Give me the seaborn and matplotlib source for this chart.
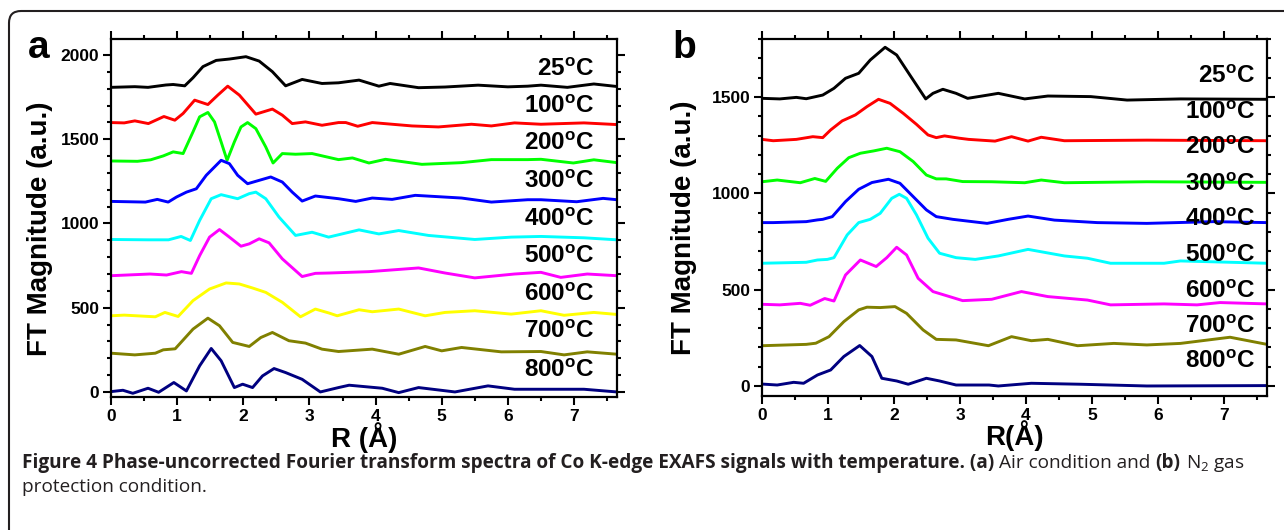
import numpy as np
import pandas as pd
import seaborn as sns
import matplotlib.pyplot as plt
from matplotlib.patches import FancyBboxPatch
from matplotlib.ticker import MultipleLocator

# temperature labels (both panels)
temps = ['25', '100', '200', '300', '400', '500', '600', '700', '800']

# panel a - air condition, (R, FT magnitude)
a_25 = [(0, 1808), (0.36, 1812), (0.56, 1808), (0.83, 1822), (0.94, 1825), (1.115, 1817), (1.24, 1865),
        (1.39, 1931), (1.59, 1968), (1.79, 1976), (2.04, 1990), (2.24, 1964), (2.44, 1901), (2.64, 1817),
        (2.89, 1855), (3.19, 1831), (3.44, 1835), (3.75, 1851), (4.05, 1815), (4.22, 1831), (4.65, 1806),
        (5.05, 1810), (5.55, 1821), (6.0, 1811), (6.3, 1815), (6.5, 1821), (6.9, 1808), (7.3, 1828), (7.65, 1813)]
a_100 = [(0, 1599), (0.2, 1597), (0.36, 1609), (0.565, 1593), (0.8, 1635), (0.965, 1613), (1.09, 1653),
         (1.265, 1732), (1.465, 1706), (1.615, 1762), (1.765, 1815), (1.94, 1762), (2.19, 1649), (2.44, 1679),
         (2.59, 1643), (2.74, 1593), (2.94, 1603), (3.19, 1583), (3.44, 1599), (3.55, 1599), (3.73, 1577),
         (3.95, 1599), (4.55, 1579), (4.95, 1573), (5.45, 1589), (5.75, 1579), (6.1, 1597), (6.5, 1589),
         (7.15, 1597), (7.65, 1587)]
a_200 = [(0, 1371), (0.4, 1369), (0.6, 1378), (0.79, 1401), (0.94, 1425), (1.09, 1415), (1.24, 1544),
         (1.34, 1633), (1.465, 1659), (1.565, 1603), (1.665, 1484), (1.755, 1375), (1.865, 1484), (1.965, 1573),
         (2.065, 1599), (2.19, 1563), (2.34, 1454), (2.45, 1359), (2.59, 1415), (2.79, 1411), (3.04, 1415),
         (3.44, 1379), (3.65, 1389), (3.9, 1359), (4.15, 1381), (4.7, 1351), (5.3, 1361), (5.75, 1379),
         (6.3, 1379), (6.5, 1381), (6.99, 1359), (7.3, 1378), (7.65, 1361)]
a_300 = [(0, 1131), (0.52, 1127), (0.7, 1143), (0.865, 1127), (0.99, 1157), (1.14, 1186), (1.29, 1206),
         (1.44, 1286), (1.665, 1375), (1.79, 1355), (1.915, 1286), (2.065, 1236), (2.24, 1256), (2.415, 1276),
         (2.59, 1246), (2.74, 1186), (2.89, 1133), (3.09, 1163), (3.44, 1147), (3.7, 1131), (3.95, 1151),
         (4.25, 1143), (4.6, 1167), (5.3, 1151), (5.75, 1127), (6.3, 1141), (6.5, 1141), (7.04, 1129),
         (7.44, 1149), (7.65, 1141)]
a_400 = [(0, 905), (0.56, 903), (0.87, 903), (1.06, 923), (1.2, 899), (1.34, 1018), (1.515, 1147),
         (1.665, 1171), (1.915, 1147), (2.09, 1177), (2.19, 1186), (2.34, 1147), (2.54, 1038), (2.79, 929),
         (3.04, 948), (3.29, 919), (3.75, 962), (4.05, 938), (4.35, 958), (4.8, 929), (5.5, 905), (6.05, 919),
         (6.5, 923), (7.15, 915), (7.65, 903)]
a_500 = [(0, 690), (0.59, 700), (0.84, 694), (1.065, 714), (1.215, 704), (1.34, 809), (1.49, 919),
         (1.64, 964), (1.79, 919), (1.965, 865), (2.09, 879), (2.24, 909), (2.39, 885), (2.59, 790), (2.89, 685),
         (3.09, 704), (3.3, 706), (3.9, 714), (4.65, 736), (5.05, 706), (5.5, 677), (6.1, 700), (6.5, 710),
         (6.8, 680), (7.2, 700), (7.65, 690)]
a_600 = [(0, 452), (0.2, 456), (0.67, 446), (0.815, 472), (1.015, 448), (1.24, 542), (1.49, 611), (1.74, 647),
         (1.94, 641), (2.14, 617), (2.34, 591), (2.59, 532), (2.865, 446), (3.09, 492), (3.3, 468), (3.42, 452),
         (3.75, 488), (3.95, 476), (4.35, 492), (4.75, 452), (5.05, 472), (5.5, 482), (6.05, 462), (6.5, 482),
         (6.85, 455), (7.3, 472), (7.65, 460)]
a_700 = [(0, 230), (0.36, 220), (0.67, 230), (0.79, 250), (0.97, 256), (1.24, 373), (1.465, 438), (1.64, 393),
         (1.84, 294), (2.09, 270), (2.265, 323), (2.44, 353), (2.69, 304), (2.94, 290), (3.19, 254), (3.44, 240),
         (3.95, 254), (4.35, 224), (4.75, 270), (5.0, 244), (5.3, 264), (5.9, 238), (6.5, 240), (6.85, 220),
         (7.2, 238), (7.65, 224)]
a_800 = [(0, 2), (0.18, 10), (0.33, -8), (0.56, 22), (0.72, -2), (0.95, 56), (1.14, 6), (1.34, 155),
         (1.515, 258), (1.665, 185), (1.865, 26), (1.99, 46), (2.14, 26), (2.29, 95), (2.465, 139), (2.64, 115),
         (2.89, 75), (3.165, 0), (3.44, 26), (3.6, 40), (4.1, 22), (4.35, -4), (4.65, 26), (5.2, 0), (5.7, 36),
         (6.1, 16), (6.5, 16), (7.15, 16), (7.65, 0)]

# panel b - N2 protection (no 600 C trace drawn in the original)
b_25 = [(0, 1493), (0.27, 1490), (0.52, 1498), (0.67, 1491), (0.92, 1510), (1.09, 1545), (1.265, 1597),
        (1.465, 1623), (1.64, 1692), (1.865, 1758), (2.04, 1718), (2.24, 1614), (2.48, 1490), (2.59, 1519),
        (2.74, 1540), (2.94, 1519), (3.115, 1493), (3.44, 1511), (3.58, 1519), (3.98, 1490), (4.33, 1505),
        (4.98, 1502), (5.53, 1484), (6.34, 1490), (7.65, 1488)]
b_100 = [(0, 1280), (0.17, 1273), (0.52, 1280), (0.77, 1294), (0.92, 1289), (1.04, 1329), (1.215, 1376),
         (1.415, 1407), (1.59, 1450), (1.765, 1488), (1.94, 1467), (2.14, 1415), (2.34, 1358), (2.515, 1303),
         (2.64, 1289), (2.765, 1298), (2.99, 1286), (3.13, 1280), (3.53, 1271), (3.78, 1294), (4.03, 1271),
         (4.23, 1291), (4.58, 1273), (5.83, 1276), (7.65, 1273)]
b_200 = [(0, 1060), (0.23, 1069), (0.58, 1055), (0.8, 1077), (0.965, 1062), (1.14, 1130), (1.315, 1185),
         (1.49, 1208), (1.69, 1220), (1.89, 1234), (2.09, 1216), (2.29, 1165), (2.49, 1095), (2.64, 1075),
         (2.79, 1075), (3.04, 1061), (3.48, 1060), (3.98, 1055), (4.23, 1069), (4.58, 1055), (5.83, 1060),
         (7.65, 1057)]
b_300 = [(0, 848), (0.17, 848), (0.67, 853), (0.84, 862), (0.92, 865), (1.065, 879), (1.265, 957),
         (1.465, 1021), (1.665, 1056), (1.915, 1073), (2.09, 1052), (2.29, 983), (2.49, 914), (2.64, 879),
         (2.89, 865), (3.41, 844), (3.73, 865), (4.03, 882), (4.43, 861), (5.08, 848), (5.83, 844), (6.84, 853),
         (7.65, 848)]
b_400 = [(0, 637), (0.67, 642), (0.84, 654), (0.99, 657), (1.09, 666), (1.29, 784), (1.465, 848), (1.64, 865),
         (1.79, 896), (1.965, 974), (2.08, 995), (2.19, 974), (2.34, 888), (2.515, 767), (2.69, 689), (2.94, 666),
         (3.23, 657), (3.58, 675), (4.03, 709), (4.58, 675), (4.93, 663), (5.28, 637), (6.09, 637), (6.34, 649),
         (7.65, 637)]
b_500 = [(0, 424), (0.27, 421), (0.58, 429), (0.73, 419), (0.95, 454), (1.09, 441), (1.265, 576), (1.49, 654),
         (1.73, 620), (1.89, 666), (2.04, 720), (2.19, 680), (2.365, 559), (2.59, 490), (2.84, 464), (3.04, 443),
         (3.48, 450), (3.93, 490), (4.33, 464), (4.93, 446), (5.28, 421), (6.09, 426), (6.59, 421), (6.94, 433),
         (7.65, 426)]
b_700 = [(0, 209), (0.67, 216), (0.815, 222), (1.015, 256), (1.24, 334), (1.465, 395), (1.59, 409), (1.79, 407),
         (2.015, 412), (2.19, 377), (2.44, 291), (2.64, 242), (2.94, 239), (3.43, 209), (3.78, 256), (4.08, 235),
         (4.33, 242), (4.78, 209), (5.33, 221), (5.83, 213), (6.34, 221), (7.09, 253), (7.65, 216)]
b_800 = [(0, 10), (0.23, 5), (0.48, 19), (0.63, 14), (0.84, 57), (1.04, 83), (1.24, 153), (1.48, 210),
         (1.665, 153), (1.815, 40), (2.04, 26), (2.215, 9), (2.49, 40), (2.69, 26), (2.94, 5), (3.44, 5),
         (3.58, 0), (4.08, 14), (4.83, 9), (5.83, 0), (7.65, 2)]

a_curves = [a_25, a_100, a_200, a_300, a_400, a_500, a_600, a_700, a_800]
b_curves = [b_25, b_100, b_200, b_300, b_400, b_500, b_700, b_800]
a_colors = ['#000000', '#ff0000', '#00ff00', '#0000ff', '#00ffff', '#ff00ff', '#ffff00', '#808000', '#000080']
b_colors = ['#000000', '#ff0000', '#00ff00', '#0000ff', '#00ffff', '#ff00ff', '#808000', '#000080']

# label placement (layout only)
a_lab_x, a_lab_y = 7.31, [1875, 1656, 1436, 1211, 985, 765, 540, 320, 89]
b_lab_x, b_lab_y = 7.47, [1573, 1386, 1204, 1012, 830, 643, 457, 275, 93]

W, H = 1284, 530

sns.set_style('ticks')
plt.rcParams['font.family'] = ['Liberation Sans', 'DejaVu Sans']
plt.rcParams['font.weight'] = 'bold'
plt.rcParams['text.color'] = 'black'
plt.rcParams['axes.labelcolor'] = 'black'
plt.rcParams['xtick.color'] = 'black'
plt.rcParams['ytick.color'] = 'black'
plt.rcParams['mathtext.fontset'] = 'custom'
plt.rcParams['mathtext.bf'] = 'Liberation Sans:bold'
plt.rcParams['mathtext.rm'] = 'Open Sans:regular'
plt.rcParams['mathtext.it'] = 'Open Sans:italic'


def to_frame(curves):
    rows = []
    for i, pts in enumerate(curves):
        for r, v in pts:
            rows.append((r, v, i))
    return pd.DataFrame(rows, columns=['R', 'FT', 'k'])


def style(ax, ylim, xlabel, ylab_x):
    ax.set_xlim(0, 7.65)
    ax.set_ylim(*ylim)
    ax.xaxis.set_major_locator(MultipleLocator(1))
    ax.xaxis.set_minor_locator(MultipleLocator(0.5))
    ax.yaxis.set_major_locator(MultipleLocator(500))
    ax.yaxis.set_minor_locator(MultipleLocator(100))
    ax.tick_params(which='both', direction='out', width=1.5, color='black',
                   top=True, right=True, labelsize=12.5, pad=3, labelcolor='black')
    ax.tick_params(which='major', length=5.5)
    ax.tick_params(which='minor', length=3)
    for s in ax.spines.values():
        s.set_visible(True)
        s.set_linewidth(1.6)
        s.set_color('black')
    for lab in ax.get_xticklabels() + ax.get_yticklabels():
        lab.set_fontweight('bold')
    ax.set_xlabel(xlabel, fontsize=20, fontweight='bold', va='center')
    ax.xaxis.set_label_coords(0.5, -0.112)
    ax.set_ylabel('FT Magnitude (a.u.)', fontsize=20, fontweight='bold', va='center')
    ax.yaxis.set_label_coords(ylab_x, 0.47)


fig = plt.figure(figsize=(W / 100, H / 100), dpi=100)
ax_a = fig.add_axes([111 / W, 133 / H, 506 / W, 358 / H])
ax_b = fig.add_axes([762 / W, 134 / H, 505 / W, 357 / H])

for ax, curves, cols in [(ax_a, a_curves, a_colors), (ax_b, b_curves, b_colors)]:
    df = to_frame(curves)
    sns.lineplot(data=df, x='R', y='FT', hue='k', palette=cols, estimator=None,
                 legend=False, lw=2.1, ax=ax)

style(ax_a, (-30, 2095), 'R (Å)', -0.14)
style(ax_b, (-52, 1801), 'R(Å)', -0.154)

for t, y in zip(temps, a_lab_y):
    ax_a.text(a_lab_x, y, t + r'$^{\mathbf{o}}$C', ha='right', va='baseline', fontsize=17.5,
              fontweight='bold', color='black')
for t, y in zip(temps, b_lab_y):
    ax_b.text(b_lab_x, y, t + r'$^{\mathbf{o}}$C', ha='right', va='baseline', fontsize=17.5,
              fontweight='bold', color='black')

fig.text(28 / W, 1 - 58 / H, 'a', fontsize=28, fontweight='bold', va='baseline', color='black')
fig.text(672 / W, 1 - 58 / H, 'b', fontsize=28, fontweight='bold', va='baseline', color='black')

# rounded frame round figure + caption
frame = FancyBboxPatch((0.09, -1.0), 14.0, 6.19, boxstyle='round,pad=0,rounding_size=0.12',
                       transform=fig.dpi_scale_trans, fill=False, lw=1.5, ec='#231f20')
fig.patches.append(frame)

# caption with bold / normal runs
fig.canvas.draw()
rend = fig.canvas.get_renderer()


def put_runs(runs, x0, y0, size=13.7):
    x = x0
    for s, w in runs:
        t = fig.text(x / W, 1 - y0 / H, s, fontsize=size, fontweight=w, family=['Open Sans', 'DejaVu Sans'],
                     color='#231f20', va='baseline', ha='left')
        x += t.get_window_extent(rend).width + 5


put_runs([('Figure 4 Phase-uncorrected Fourier transform spectra of Co K-edge EXAFS signals with temperature. (a)', 'bold'),
          ('Air condition and', 'normal'), ('(b)', 'bold'), ('N$_2$ gas', 'normal')], 22, 468)
put_runs([('protection condition.', 'normal')], 22, 492)

fig.savefig('out.png', dpi=100)
